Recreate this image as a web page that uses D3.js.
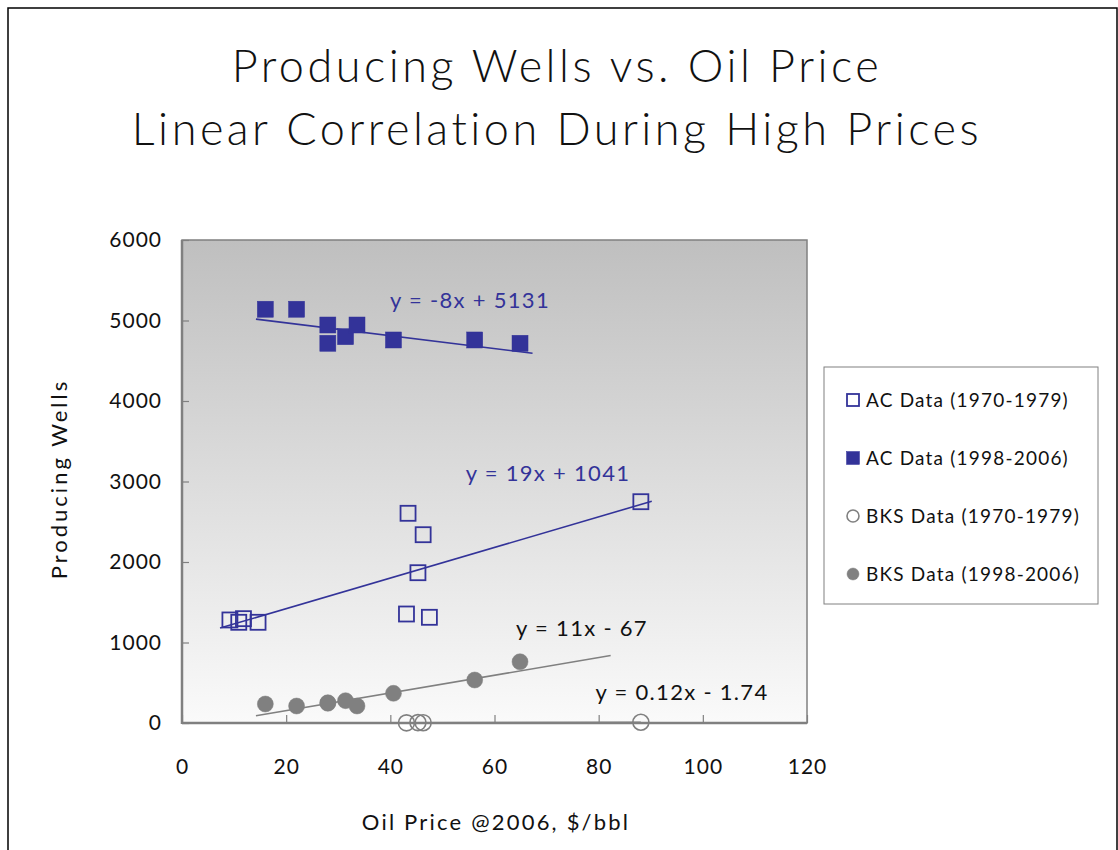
<!DOCTYPE html>
<html>
<head>
<meta charset="utf-8">
<script src="https://cdn.jsdelivr.net/npm/d3@7"></script>
<style>
  html, body { margin: 0; padding: 0; background: #fff; }
  svg { display: block; }
  text { font-family: "Lato", "Liberation Sans", sans-serif; fill: #111; }
</style>
</head>
<body>
<svg id="chart" width="1118" height="850"></svg>
<script>
// Oil price (2006 $/bbl) and producing wells, by field and period
const acPrice70 = [9.2, 10.9, 11.8, 14.6, 43.1, 43.4, 45.3, 46.3, 47.5, 88.1];
const acWells70 = [1280, 1251, 1296, 1251, 1354, 2605, 1867, 2339, 1313, 2749];

const acPrice98 = [16.0, 22.0, 28.0, 28.0, 31.4, 33.6, 40.6, 56.2, 64.9];
const acWells98 = [5140, 5140, 4944, 4717, 4799, 4944, 4758, 4758, 4717];

const bksPrice70 = [43.1, 45.3, 46.3, 88.1];
const bksWells70 = [2, 5, 4, 9];

const bksPrice98 = [16.0, 22.0, 28.0, 28.0, 31.4, 33.6, 40.6, 56.2, 64.9];
const bksWells98 = [236, 211, 252, 245, 277, 211, 369, 534, 761];

// Linear trendlines: slope, intercept and the price span each one covers
const trendSlope = [19, -8, 0.12, 11];
const trendIntercept = [1041, 5131, -1.74, -67];
const trendFrom = [7.3, 14.2, 43.1, 14.2];
const trendTo = [90.2, 67.3, 88.1, 82.3];
const trendLabels = ["y = 19x + 1041", "y = -8x + 5131", "y = 0.12x - 1.74", "y = 11x - 67"];

const seriesNames = ["AC Data (1970-1979)", "AC Data (1998-2006)", "BKS Data (1970-1979)", "BKS Data (1998-2006)"];

const xTicks = [0, 20, 40, 60, 80, 100, 120];
const yTicks = [0, 1000, 2000, 3000, 4000, 5000, 6000];

const NAVY = "#333399";
const GREY = "#808080";

const series = [
  { name: seriesNames[0], x: acPrice70, y: acWells70, shape: "square", filled: false, color: NAVY },
  { name: seriesNames[1], x: acPrice98, y: acWells98, shape: "square", filled: true, color: NAVY },
  { name: seriesNames[2], x: bksPrice70, y: bksWells70, shape: "circle", filled: false, color: GREY },
  { name: seriesNames[3], x: bksPrice98, y: bksWells98, shape: "circle", filled: true, color: GREY }
];

const svg = d3.select("#chart");
const plot = { left: 182, right: 807, top: 240, bottom: 723 };

const x = d3.scaleLinear().domain([0, 120]).range([plot.left, plot.right]);
const y = d3.scaleLinear().domain([0, 6000]).range([plot.bottom, plot.top]);

// Outer frame
svg.append("rect")
  .attr("x", 8).attr("y", 8).attr("width", 1109).attr("height", 900)
  .attr("fill", "none").attr("stroke", "#000").attr("stroke-width", 1.5);

// Title
const title = svg.append("text")
  .attr("text-anchor", "middle")
  .style("font-size", "45px")
  .style("font-weight", 300)
  .style("letter-spacing", "3.5px");
title.append("tspan").attr("x", 557).attr("y", 82).text("Producing Wells vs. Oil Price");
title.append("tspan").attr("x", 557).attr("y", 145).text("Linear Correlation During High Prices");

// Plot background gradient
const defs = svg.append("defs");
const grad = defs.append("linearGradient")
  .attr("id", "plotBg").attr("x1", 0).attr("y1", 0).attr("x2", 0).attr("y2", 1);
grad.append("stop").attr("offset", "0%").attr("stop-color", "#bfbfbf");
grad.append("stop").attr("offset", "100%").attr("stop-color", "#fafafa");

svg.append("rect")
  .attr("x", plot.left).attr("y", plot.top)
  .attr("width", plot.right - plot.left).attr("height", plot.bottom - plot.top)
  .attr("fill", "url(#plotBg)");

// Trendlines
const trendColors = [NAVY, NAVY, GREY, GREY];
const trendG = svg.append("g");
trendSlope.forEach((m, i) => {
  const f = v => m * v + trendIntercept[i];
  trendG.append("line")
    .attr("x1", x(trendFrom[i])).attr("y1", y(f(trendFrom[i])))
    .attr("x2", x(trendTo[i])).attr("y2", y(f(trendTo[i])))
    .attr("stroke", trendColors[i]).attr("stroke-width", 1.6);
});

// Axes (ticks point into the plot)
const yAxis = d3.axisLeft(y).tickValues(yTicks).tickSize(-7).tickPadding(20).tickFormat(d3.format("d"));
const xAxis = d3.axisBottom(x).tickValues(xTicks).tickSize(-8).tickPadding(36).tickFormat(d3.format("d"));

const gy = svg.append("g").attr("transform", `translate(${plot.left},0)`).call(yAxis);
const gx = svg.append("g").attr("transform", `translate(0,${plot.bottom})`).call(xAxis);
[gy, gx].forEach(g => {
  g.select(".domain").remove();
  g.selectAll(".tick line").attr("stroke", GREY).attr("stroke-width", 1.2);
  g.selectAll(".tick text")
    .style("font-size", "21px")
    .style("font-family", "Lato, 'Liberation Sans', sans-serif")
    .style("letter-spacing", "1px")
    .attr("fill", "#111");
});

// Plot border
svg.append("rect")
  .attr("x", plot.left).attr("y", plot.top)
  .attr("width", plot.right - plot.left).attr("height", plot.bottom - plot.top)
  .attr("fill", "none").attr("stroke", GREY).attr("stroke-width", 1.5);
svg.append("line")
  .attr("x1", plot.left).attr("x2", plot.left).attr("y1", plot.top).attr("y2", plot.bottom + 1)
  .attr("stroke", GREY).attr("stroke-width", 2.5);
svg.append("line")
  .attr("x1", plot.left).attr("x2", plot.right).attr("y1", plot.bottom).attr("y2", plot.bottom)
  .attr("stroke", GREY).attr("stroke-width", 2.5);

// Markers
function drawMarker(g, s, cx, cy, size) {
  if (s.shape === "square") {
    const half = size / 2;
    g.append("rect")
      .attr("x", cx - half).attr("y", cy - half)
      .attr("width", size).attr("height", size)
      .attr("fill", s.filled ? s.color : "none")
      .attr("stroke", s.color).attr("stroke-width", s.filled ? 0.5 : 1.8);
  } else {
    g.append("circle")
      .attr("cx", cx).attr("cy", cy).attr("r", size / 2)
      .attr("fill", s.filled ? s.color : "none")
      .attr("stroke", s.color).attr("stroke-width", s.filled ? 0.5 : 1.6);
  }
}

const markG = svg.append("g");
series.forEach(s => {
  s.x.forEach((v, i) => {
    drawMarker(markG, s, x(v), y(s.y[i]), s.shape === "square" ? (s.filled ? 16 : 15) : 16);
  });
});

// Trendline equations
const eqColors = [NAVY, NAVY, "#111", "#111"];
const eqPos = [[548, 481], [470, 308], [682, 700], [582, 636]];
trendLabels.forEach((t, i) => {
  svg.append("text")
    .attr("x", eqPos[i][0]).attr("y", eqPos[i][1])
    .attr("text-anchor", "middle")
    .style("font-size", "22px")
    .style("letter-spacing", "1.3px")
    .style("fill", eqColors[i])
    .text(t);
});

// Axis titles
svg.append("text")
  .attr("x", 496).attr("y", 830)
  .attr("text-anchor", "middle")
  .style("font-size", "22px")
  .style("letter-spacing", "2.2px")
  .text("Oil Price @2006, $/bbl");
svg.append("text")
  .attr("transform", "translate(67,479) rotate(-90)")
  .attr("text-anchor", "middle")
  .style("font-size", "22px")
  .style("letter-spacing", "3px")
  .text("Producing Wells");

// Legend
const legend = svg.append("g");
legend.append("rect")
  .attr("x", 824).attr("y", 367).attr("width", 274).attr("height", 237)
  .attr("fill", "#fff").attr("stroke", GREY).attr("stroke-width", 1);
series.forEach((s, i) => {
  const cy = 400 + i * 58;
  drawMarker(legend, s, 853, cy, s.shape === "square" ? (s.filled ? 13 : 12) : 12);
  legend.append("text")
    .attr("x", 866).attr("y", cy)
    .attr("dy", "0.35em")
    .style("font-size", "19px")
    .style("letter-spacing", "1.2px")
    .text(s.name);
});
</script>
</body>
</html>
